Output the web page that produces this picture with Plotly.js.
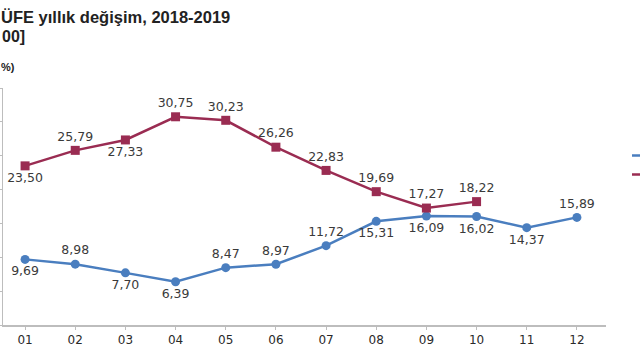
<!DOCTYPE html>
<html>
<head>
<meta charset="utf-8">
<script src="https://cdn.plot.ly/plotly-3.0.1.min.js"></script>
<style>html,body{margin:0;padding:0;background:#fff;}#chart{width:640px;height:360px;}</style>
</head>
<body>
<div id="chart"></div>
<script>
const months = ["01","02","03","04","05","06","07","08","09","10","11","12"];
const series2018 = [9.69, 8.98, 7.70, 6.39, 8.47, 8.97, 11.72, 15.31, 16.09, 16.02, 14.37, 15.89];
const series2019 = [23.50, 25.79, 27.33, 30.75, 30.23, 26.26, 22.83, 19.69, 17.27, 18.22];
const pos2018 = ["bottom center","top center","bottom center","bottom center","top center","top center","top center","bottom center","bottom center","bottom center","bottom center","top center"];
const pos2019 = ["bottom center","top center","bottom center","top center","top center","top center","top center","top center","top center","top center"];
const seriesNames = ["2018", "2019"];
const titleLines = ["ÜFE yıllık değişim, 2018-2019", "00]", "%)"];

const labelFont = {family: "DejaVu Sans, sans-serif", size: 12.5, color: "#3a3a3a"};

const traces = [
  {
    x: months, y: series2018, name: seriesNames[0], type: "scatter", mode: "lines+markers+text",
    line: {color: "#4a7ebf", width: 2.5},
    marker: {color: "#4a7ebf", size: 9, symbol: "circle"},
    texttemplate: "%{y:.2f}", textposition: pos2018, textfont: labelFont,
    cliponaxis: false
  },
  {
    x: months.slice(0, series2019.length), y: series2019, name: seriesNames[1], type: "scatter", mode: "lines+markers+text",
    line: {color: "#9a2c52", width: 2.5},
    marker: {color: "#9a2c52", size: 9, symbol: "square"},
    texttemplate: "%{y:.2f}", textposition: pos2019, textfont: labelFont,
    cliponaxis: false
  }
];

const plotL = 3, plotR = 606, plotT = 88, plotB = 325;
const pw = plotR - plotL, ph = plotB - plotT;
const px = v => (v - plotL) / pw;
const py = v => (plotB - v) / ph;

const layout = {
  width: 640, height: 360,
  margin: {l: plotL, r: 640 - plotR, t: plotT, b: 360 - plotB, pad: 0, autoexpand: false},
  paper_bgcolor: "#ffffff", plot_bgcolor: "#ffffff",
  separators: ",.",
  font: {family: "DejaVu Sans, sans-serif", size: 12, color: "#333"},
  showlegend: true,
  legend: {x: px(627), xanchor: "left", y: py(141), yanchor: "top", bgcolor: "rgba(0,0,0,0)",
           font: {size: 10, color: "#333"}, tracegroupgap: 0},
  xaxis: {
    type: "category", range: [-0.44, 11.58],
    showline: true, linecolor: "#bdbdbd", linewidth: 1.5,
    ticks: "outside", ticklen: 3, tickcolor: "#bdbdbd",
    showgrid: false, zeroline: false,
    tickfont: {family: "DejaVu Sans, sans-serif", size: 12, color: "#2a2a2a"}
  },
  yaxis: {
    range: [0, 35], dtick: 5, tick0: 0,
    showline: true, linecolor: "#bdbdbd", linewidth: 1.5,
    ticks: "outside", ticklen: 3, tickcolor: "#bdbdbd",
    showticklabels: false, showgrid: false, zeroline: false
  },
  annotations: [
    {xref: "paper", yref: "paper", x: px(0), y: py(17), xanchor: "left", yanchor: "middle",
     text: "<b>" + titleLines[0] + "</b>", showarrow: false, borderpad: 0,
     font: {family: "Liberation Sans, Arial, sans-serif", size: 16.5, color: "#222"}},
    {xref: "paper", yref: "paper", x: px(1), y: py(36), xanchor: "left", yanchor: "middle",
     text: "<b>" + titleLines[1] + "</b>", showarrow: false, borderpad: 0,
     font: {family: "Liberation Sans, Arial, sans-serif", size: 16, color: "#222"}},
    {xref: "paper", yref: "paper", x: px(0), y: py(67), xanchor: "left", yanchor: "middle",
     text: "<b>" + titleLines[2] + "</b>", showarrow: false, borderpad: 0,
     font: {family: "Liberation Sans, Arial, sans-serif", size: 11, color: "#222"}}
  ]
};

Plotly.newPlot("chart", traces, layout, {staticPlot: true, displayModeBar: false});
</script>
</body>
</html>
